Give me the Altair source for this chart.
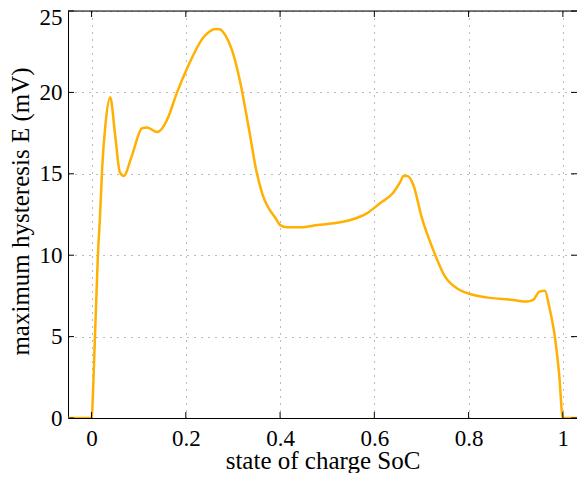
import altair as alt
import pandas as pd

soc = [-0.05, 0.0, 0.005, 0.0134, 0.0177, 0.0226, 0.0297, 0.0395, 0.050, 0.060, 0.068,
       0.086, 0.107, 0.118, 0.139, 0.150, 0.160, 0.182, 0.203, 0.238, 0.263, 0.272,
       0.284, 0.298, 0.316, 0.333, 0.351, 0.362, 0.393, 0.400, 0.415, 0.443, 0.480,
       0.513, 0.549, 0.584, 0.612, 0.640, 0.655, 0.662, 0.670, 0.683, 0.700, 0.725,
       0.750, 0.775, 0.803, 0.838, 0.895, 0.923, 0.937, 0.950, 0.962, 0.971, 0.983,
       0.992, 1.0, 1.05]
hyst = [0.0, 0.0, 3.15, 10.0, 12.27, 15.4, 18.1, 19.7, 17.4, 15.1, 14.87,
        16.15, 17.8, 17.85, 17.57, 17.8, 18.3, 20.05, 21.5, 23.4, 23.9, 23.88,
        23.5, 22.6, 20.55, 17.9, 15.0, 13.8, 12.16, 11.85, 11.71, 11.72, 11.85,
        11.96, 12.16, 12.57, 13.19, 13.84, 14.5, 14.87, 14.87, 14.3, 12.37, 10.32,
        8.68, 7.97, 7.62, 7.41, 7.25, 7.15, 7.25, 7.76, 7.82, 6.84, 4.99,
        2.74, 0.0, 0.0]
x_ticks = [0, 0.2, 0.4, 0.6, 0.8, 1.0]
y_ticks = [0, 5, 10, 15, 20, 25]

W, H = 509, 407
FONT = "Liberation Serif"
TICK = 6

df = pd.DataFrame({"soc": soc, "E": hyst})
xt = pd.DataFrame({"t": x_ticks})
yt = pd.DataFrame({"t": y_ticks})
one = pd.DataFrame({"a": [0]})

xscale = alt.Scale(domain=[-0.05, 1.03], nice=False, zero=False)
yscale = alt.Scale(domain=[0, 25], nice=False)

xaxis = alt.Axis(values=x_ticks, format="~g", title="state of charge SoC",
                 grid=True, gridColor="#777", gridDash=[1, 6], gridWidth=1,
                 ticks=False, domain=True, domainColor="black", domainWidth=1,
                 labelFont=FONT, labelFontSize=23, labelColor="black", labelPadding=9,
                 titleFont=FONT, titleFontSize=25, titleFontWeight="normal",
                 titleColor="black", titleBaseline="alphabetic", titleY=50)
yaxis = alt.Axis(values=y_ticks, format="~g", title="maximum hysteresis E (mV)",
                 grid=True, gridColor="#777", gridDash=[1, 6], gridWidth=1,
                 ticks=False, domain=True, domainColor="black", domainWidth=1,
                 labelFont=FONT, labelFontSize=23, labelColor="black", labelPadding=6,
                 labelOffset={"condition": {"test": "datum.value == 25", "value": 6}, "value": 0},
                 titleFont=FONT, titleFontSize=25, titleFontWeight="normal",
                 titleColor="black", titleBaseline="alphabetic", titleX=-40, titleY=200)

line = alt.Chart(df).mark_line(color="#FFB000", strokeWidth=2.5, interpolate="monotone",
                               clip=True).encode(
    x=alt.X("soc:Q", scale=xscale, axis=xaxis),
    y=alt.Y("E:Q", scale=yscale, axis=yaxis),
)

bottom_ticks = alt.Chart(xt).mark_rule(color="black", strokeWidth=1).encode(
    x=alt.X("t:Q", scale=xscale, axis=xaxis), y=alt.value(H), y2=alt.value(H - TICK))
top_ticks = alt.Chart(xt).mark_rule(color="black", strokeWidth=1).encode(
    x=alt.X("t:Q", scale=xscale, axis=xaxis), y=alt.value(0), y2=alt.value(TICK))
left_ticks = alt.Chart(yt).mark_rule(color="black", strokeWidth=1).encode(
    y=alt.Y("t:Q", scale=yscale, axis=yaxis), x=alt.value(0), x2=alt.value(TICK))
right_ticks = alt.Chart(yt).mark_rule(color="black", strokeWidth=1).encode(
    y=alt.Y("t:Q", scale=yscale, axis=yaxis), x=alt.value(W), x2=alt.value(W - TICK))
top_border = alt.Chart(one).mark_rule(color="black", strokeWidth=1).encode(
    x=alt.value(0), x2=alt.value(W), y=alt.value(0))

chart = alt.layer(line, bottom_ticks, top_ticks, left_ticks, right_ticks, top_border).properties(
    width=W, height=H,
    padding={"left": 60, "top": 3, "right": 0, "bottom": 55},
    autosize=alt.AutoSizeParams(type="none"),
).configure_view(stroke=None).configure(background="white")

chart.save("out.html", embed_options={"renderer": "svg", "actions": False})
